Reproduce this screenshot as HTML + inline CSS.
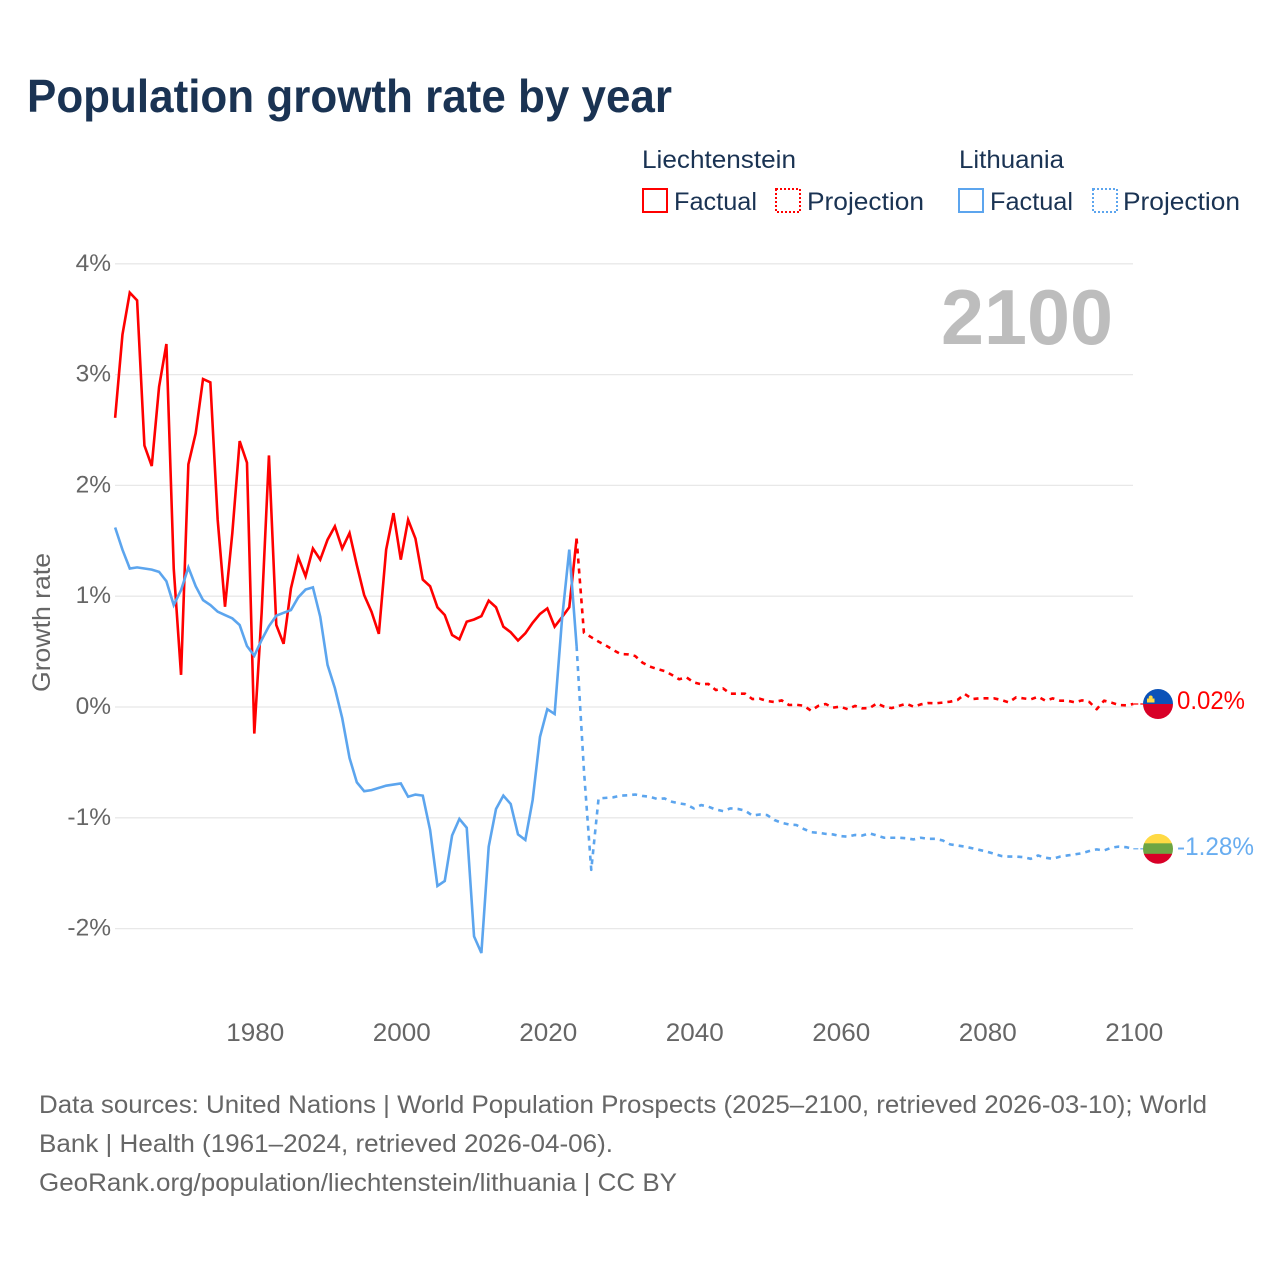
<!DOCTYPE html>
<html lang="en">
<head>
<meta charset="utf-8">
<title>Population growth rate by year</title>
<style>
html,body{margin:0;padding:0;background:#fff;width:1280px;height:1280px;overflow:hidden}
svg{display:block}
text{font-family:"Liberation Sans",sans-serif}
</style>
</head>
<body>
<svg id="chart" xmlns="http://www.w3.org/2000/svg" width="1280" height="1280" viewBox="0 0 1280 1280">
  <rect x="0" y="0" width="1280" height="1280" fill="#fff"/>
  <text x="27" y="112" font-size="46" font-weight="700" fill="#1a3353" textLength="645" lengthAdjust="spacingAndGlyphs">Population growth rate by year</text>

  <g font-size="25" fill="#1a3353">
    <text x="642" y="168" textLength="154" lengthAdjust="spacingAndGlyphs">Liechtenstein</text>
    <text x="959" y="168" textLength="105" lengthAdjust="spacingAndGlyphs">Lithuania</text>
    <rect x="643" y="189" width="24" height="23" fill="none" stroke="#ff0000" stroke-width="2"/>
    <text x="674" y="210" textLength="83" lengthAdjust="spacingAndGlyphs">Factual</text>
    <rect x="776" y="189" width="24" height="23" fill="none" stroke="#ff0000" stroke-width="2" stroke-dasharray="2,2"/>
    <text x="807" y="210" textLength="117" lengthAdjust="spacingAndGlyphs">Projection</text>
    <rect x="959" y="189" width="24" height="23" fill="none" stroke="#5ca5ee" stroke-width="2"/>
    <text x="990" y="210" textLength="83" lengthAdjust="spacingAndGlyphs">Factual</text>
    <rect x="1093" y="189" width="24" height="23" fill="none" stroke="#5ca5ee" stroke-width="2" stroke-dasharray="2,2"/>
    <text x="1123" y="210" textLength="117" lengthAdjust="spacingAndGlyphs">Projection</text>
  </g>

  <g id="grid"></g>
  <g id="yticks" font-size="24.5" fill="#666"></g>
  <g id="xticks" font-size="25" fill="#666"></g>
  <text transform="translate(50,692) rotate(-90)" font-size="25" fill="#666" textLength="139" lengthAdjust="spacingAndGlyphs">Growth rate</text>
  <text x="941" y="344" font-size="78" font-weight="700" fill="#bdbdbd" textLength="172" lengthAdjust="spacingAndGlyphs">2100</text>

  <g id="series"></g>
  <g id="ends"></g>

  <g font-size="25" fill="#666">
    <text x="39" y="1113" textLength="1168" lengthAdjust="spacingAndGlyphs">Data sources: United Nations | World Population Prospects (2025–2100, retrieved 2026-03-10); World</text>
    <text x="39" y="1152" textLength="574" lengthAdjust="spacingAndGlyphs">Bank | Health (1961–2024, retrieved 2026-04-06).</text>
    <text x="39" y="1191" textLength="638" lengthAdjust="spacingAndGlyphs">GeoRank.org/population/liechtenstein/lithuania | CC BY</text>
  </g>
</svg>
<script>
const yTickValues = [4, 3, 2, 1, 0, -1, -2];
const yTickLabels = ['4%', '3%', '2%', '1%', '0%', '-1%', '-2%'];
const xTickYears = [1980, 2000, 2020, 2040, 2060, 2080, 2100];
const factualStartYear = 1961;
const projectionStartYear = 2024;
const liechtensteinFactual = [
  2.61,3.36,3.74,3.67,2.36,2.175,2.89,3.276,1.25,0.29,
  2.19,2.47,2.96,2.93,1.69,0.905,1.57,2.40,2.205,-0.24,
  0.85,2.27,0.74,0.57,1.07,1.35,1.18,1.43,1.33,1.51,
  1.63,1.43,1.57,1.28,1.01,0.86,0.66,1.42,1.75,1.33,
  1.69,1.52,1.15,1.09,0.90,0.83,0.65,0.61,0.77,0.79,
  0.82,0.96,0.90,0.725,0.675,0.60,0.665,0.76,0.84,0.89,
  0.725,0.81,0.90,1.52
];
const liechtensteinProjection = [
  1.52,0.67,0.63,0.59,0.555,0.515,0.478,0.475,0.46,0.40,0.365,
  0.343,0.325,0.29,0.25,0.268,0.222,0.205,0.208,0.153,0.168,
  0.12,0.12,0.12,0.072,0.075,0.054,0.045,0.06,0.018,0.02,
  0.012,-0.033,0.01,0.027,-0.006,0.003,-0.02,0.01,-0.012,-0.01,
  0.033,0.003,-0.01,0.01,0.03,0.003,0.024,0.036,0.033,0.04,
  0.048,0.063,0.117,0.072,0.078,0.078,0.078,0.063,0.042,0.087,
  0.078,0.069,0.093,0.057,0.078,0.057,0.057,0.042,0.06,0.045,
  -0.02,0.057,0.04,0.018,0.015,0.027
];
const lithuaniaFactual = [
  1.62,1.42,1.25,1.26,1.25,1.24,1.22,1.135,0.92,1.055,
  1.26,1.09,0.965,0.92,0.86,0.83,0.80,0.74,0.55,0.463,
  0.605,0.73,0.824,0.85,0.875,0.99,1.06,1.08,0.815,0.38,
  0.17,-0.10,-0.46,-0.68,-0.76,-0.75,-0.73,-0.71,-0.70,-0.69,
  -0.81,-0.79,-0.80,-1.11,-1.615,-1.57,-1.16,-1.01,-1.09,-2.07,
  -2.22,-1.26,-0.92,-0.80,-0.875,-1.15,-1.20,-0.84,-0.27,-0.02,
  -0.063,0.785,1.42,0.55
];
const lithuaniaProjection = [
  0.55,-0.57,-1.47,-0.825,-0.82,-0.815,-0.80,-0.797,-0.79,-0.803,-0.81,
  -0.83,-0.825,-0.855,-0.87,-0.88,-0.915,-0.885,-0.90,-0.925,-0.94,
  -0.915,-0.92,-0.935,-0.98,-0.97,-0.975,-1.02,-1.045,-1.06,-1.065,
  -1.10,-1.13,-1.135,-1.145,-1.15,-1.165,-1.17,-1.155,-1.16,-1.14,
  -1.16,-1.18,-1.18,-1.18,-1.185,-1.195,-1.18,-1.19,-1.19,-1.205,
  -1.24,-1.25,-1.26,-1.275,-1.29,-1.305,-1.325,-1.345,-1.35,-1.35,
  -1.355,-1.37,-1.34,-1.36,-1.37,-1.35,-1.34,-1.33,-1.32,-1.30,
  -1.285,-1.295,-1.27,-1.26,-1.265,-1.28
];
const endValueLabels = ['0.02%', '-1.28%'];

const SVG_NS = 'http://www.w3.org/2000/svg';
const RED = '#ff0000';
const BLUE = '#5ca5ee';
function xScale(year) { return 254.3 + (year - 1980) * 7.325; }
function yScale(value) { return 707 - value * 110.8; }
function make(tag, attrs, parent) {
  const el = document.createElementNS(SVG_NS, tag);
  for (const k in attrs) el.setAttribute(k, attrs[k]);
  parent.appendChild(el);
  return el;
}
function pathFor(values, startYear) {
  return values.map(function (v, i) {
    return (i ? 'L' : 'M') + xScale(startYear + i).toFixed(2) + ' ' + yScale(v).toFixed(2);
  }).join(' ');
}

const gridGroup = document.getElementById('grid');
const yTickGroup = document.getElementById('yticks');
const xTickGroup = document.getElementById('xticks');
yTickValues.forEach(function (v, i) {
  const line = make('line', { x1: 115, x2: 1133, y1: yScale(v), y2: yScale(v), stroke: '#e8e8e8', 'stroke-width': 1.3 }, gridGroup);
  
  
  const label = make('text', { x: 111, y: yScale(v) + 7, 'text-anchor': 'end' }, yTickGroup);
  
  
  label.textContent = yTickLabels[i];
});
xTickYears.forEach(function (year) {
  const label = make('text', { x: xScale(year) + 1, y: 1041, 'text-anchor': 'middle', textLength: 58, lengthAdjust: 'spacingAndGlyphs' }, xTickGroup);
  
  
  label.textContent = String(year);
});

const seriesGroup = document.getElementById('series');
const redProjection = make('path', { d: pathFor(liechtensteinProjection, projectionStartYear), fill: 'none', stroke: RED, 'stroke-width': 2.6, 'stroke-dasharray': '5,5', 'stroke-linejoin': 'round' }, seriesGroup);


const redFactual = make('path', { d: pathFor(liechtensteinFactual, factualStartYear), fill: 'none', stroke: RED, 'stroke-width': 2.6, 'stroke-linejoin': 'miter' }, seriesGroup);


const blueProjection = make('path', { d: pathFor(lithuaniaProjection, projectionStartYear), fill: 'none', stroke: BLUE, 'stroke-width': 2.6, 'stroke-dasharray': '5,5', 'stroke-linejoin': 'round' }, seriesGroup);


const blueFactual = make('path', { d: pathFor(lithuaniaFactual, factualStartYear), fill: 'none', stroke: BLUE, 'stroke-width': 2.6, 'stroke-linejoin': 'miter' }, seriesGroup);



const endsGroup = document.getElementById('ends');
const redEndValue = liechtensteinProjection[liechtensteinProjection.length - 1];
const blueEndValue = lithuaniaProjection[lithuaniaProjection.length - 1];
const redEndY = yScale(redEndValue);
const blueEndY = yScale(blueEndValue);

const redConnector = make('line', { x1: xScale(2100), x2: 1143, y1: redEndY, y2: redEndY, stroke: RED, 'stroke-width': 1.2, 'stroke-dasharray': '5,2' }, endsGroup);


const blueConnector = make('line', { x1: xScale(2100), x2: 1143, y1: blueEndY, y2: blueEndY, stroke: BLUE, 'stroke-width': 1.2, 'stroke-dasharray': '5,2' }, endsGroup);



const defs = make('defs', {}, endsGroup);
const clipA = make('clipPath', { id: 'flag-clip-li' }, defs);
make('circle', { cx: 1158, cy: redEndY, r: 15 }, clipA);
const clipB = make('clipPath', { id: 'flag-clip-lt' }, defs);
make('circle', { cx: 1158, cy: blueEndY, r: 15 }, clipB);

const flagLi = make('g', { 'clip-path': 'url(#flag-clip-li)' }, endsGroup);


make('rect', { x: 1143, y: redEndY - 15, width: 30, height: 15, fill: '#0b52b8' }, flagLi);
make('rect', { x: 1143, y: redEndY, width: 30, height: 15, fill: '#d80027' }, flagLi);
make('rect', { x: 1147, y: redEndY - 5.5, width: 7.5, height: 4, fill: '#ffda44' }, flagLi);
make('circle', { cx: 1150.7, cy: redEndY - 6.5, r: 2, fill: '#ffda44' }, flagLi);

const flagLt = make('g', { 'clip-path': 'url(#flag-clip-lt)' }, endsGroup);


make('rect', { x: 1143, y: blueEndY - 15, width: 30, height: 10, fill: '#ffda44' }, flagLt);
make('rect', { x: 1143, y: blueEndY - 5.5, width: 30, height: 11, fill: '#6da544' }, flagLt);
make('rect', { x: 1143, y: blueEndY + 5, width: 30, height: 10, fill: '#d80027' }, flagLt);

const redLabel = make('text', { x: 1177, y: redEndY + 5, 'font-size': 25, fill: RED, textLength: 68, lengthAdjust: 'spacingAndGlyphs' }, endsGroup);


redLabel.textContent = endValueLabels[0];
const blueLabel = make('text', { x: 1177, y: blueEndY + 6, 'font-size': 25, fill: '#68adf0', textLength: 77, lengthAdjust: 'spacingAndGlyphs' }, endsGroup);


blueLabel.textContent = endValueLabels[1];
</script>
</body>
</html>
